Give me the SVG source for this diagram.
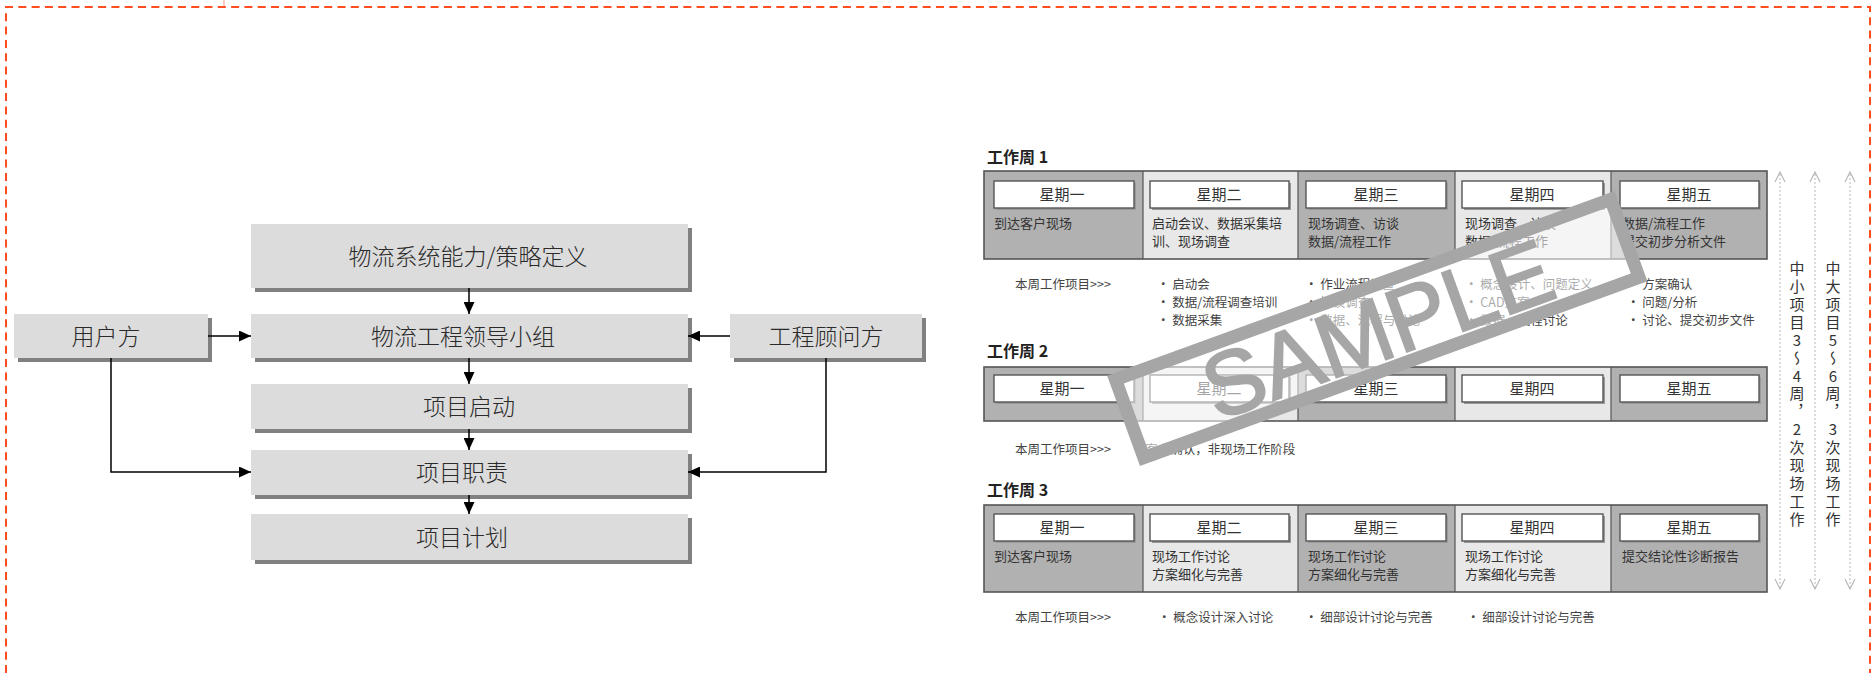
<svg xmlns="http://www.w3.org/2000/svg" width="1872" height="673" viewBox="0 0 1872 673">
<style>
.box{fill:#dcdcdc}
.shd{fill:#808080}
.lbl{font-family:"Noto Sans CJK SC","Liberation Sans",sans-serif;font-size:23px;font-weight:300;fill:#2a2a2a;text-anchor:middle}
.conn{stroke:#000;stroke-width:1.5;fill:none}
.dk{fill:#b1b1b1}
.lt{fill:#e8e8e8}
.frame{fill:none;stroke:#555;stroke-width:1.6}
.div{stroke:#555;stroke-width:1.2}
.hdr{fill:#fff;stroke:#555;stroke-width:1.4}
.hdrs{fill:#9a9a9a}
.ht{font-family:"Noto Sans CJK SC","Liberation Sans",sans-serif;font-size:15px;fill:#333;text-anchor:middle}
.bt{font-family:"Noto Sans CJK SC","Liberation Sans",sans-serif;font-size:13px;fill:#333}
.nt{font-family:"Noto Sans CJK SC","Liberation Sans",sans-serif;font-size:12.5px;fill:#444}
.wk{font-family:"Noto Sans CJK SC","Liberation Sans",sans-serif;font-size:16px;font-weight:bold;fill:#222}
.vt{font-family:"Noto Sans CJK SC","Liberation Sans",sans-serif;font-size:15px;fill:#333;writing-mode:vertical-rl;text-orientation:upright;letter-spacing:2.9px}
.dot{stroke:#b8b8b8;stroke-width:1;stroke-dasharray:2 2;fill:none}
.chev{stroke:#b8b8b8;stroke-width:1.2;fill:none}
</style>
<defs>
<marker id="ah" viewBox="0 0 12 11" refX="12" refY="5.5" markerWidth="12" markerHeight="11" markerUnits="userSpaceOnUse" orient="auto">
<path d="M0,0 L12,5.5 L0,11 z" fill="#000"/>
</marker>
</defs>
<rect width="1872" height="673" fill="#fff"/>
<!-- dashed border -->
<path d="M6,673 V7 H1870 V673" fill="none" stroke="#ff4d1f" stroke-width="2" stroke-dasharray="8 5.3"/>
<line x1="224" y1="0" x2="224" y2="6" stroke="#ff9a80" stroke-width="1"/>

<!-- flowchart -->
<g id="n-strategy"><rect class="shd" x="255" y="228" width="437" height="64"/><rect class="box" x="251" y="224" width="437" height="64"/><text class="lbl" x="468" y="265">物流系统能力/策略定义</text></g>
<g id="n-lead"><rect class="shd" x="255" y="318" width="437" height="44"/><rect class="box" x="251" y="314" width="437" height="44"/><text class="lbl" x="463" y="345">物流工程领导小组</text></g>
<g id="n-user"><rect class="shd" x="18" y="318" width="194" height="44"/><rect class="box" x="14" y="314" width="194" height="44"/><text class="lbl" x="106" y="345">用户方</text></g>
<g id="n-consult"><rect class="shd" x="734" y="318" width="192" height="44"/><rect class="box" x="730" y="314" width="192" height="44"/><text class="lbl" x="826" y="345">工程顾问方</text></g>
<g id="n-start"><rect class="shd" x="255" y="388" width="437" height="45"/><rect class="box" x="251" y="384" width="437" height="45"/><text class="lbl" x="469" y="415">项目启动</text></g>
<g id="n-duty"><rect class="shd" x="255" y="454" width="437" height="45"/><rect class="box" x="251" y="450" width="437" height="45"/><text class="lbl" x="462" y="481">项目职责</text></g>
<g id="n-plan"><rect class="shd" x="255" y="518" width="437" height="46"/><rect class="box" x="251" y="514" width="437" height="46"/><text class="lbl" x="462" y="546">项目计划</text></g>

<g id="connectors">
<path class="conn" d="M469,288 V314" marker-end="url(#ah)"/>
<path class="conn" d="M469,358 V384" marker-end="url(#ah)"/>
<path class="conn" d="M469,429 V450" marker-end="url(#ah)"/>
<path class="conn" d="M469,495 V514" marker-end="url(#ah)"/>
<path class="conn" d="M208,336 H251" marker-end="url(#ah)"/>
<path class="conn" d="M730,336 H688" marker-end="url(#ah)"/>
<path class="conn" d="M111,358 V472 H251" marker-end="url(#ah)"/>
<path class="conn" d="M826,358 V472 H688" marker-end="url(#ah)"/>
</g>

<!-- schedule -->
<g id="week1">
<text class="wk" x="987" y="163">工作周 1</text>
<rect class="dk" x="984" y="171" width="159" height="88"/><rect class="lt" x="1143" y="171" width="155" height="88"/><rect class="dk" x="1298" y="171" width="157" height="88"/><rect class="lt" x="1455" y="171" width="156" height="88"/><rect class="dk" x="1611" y="171" width="156" height="88"/>
<rect class="frame" x="984" y="171" width="783" height="88"/>
<path class="div" d="M1143,171 V259 M1298,171 V259 M1455,171 V259 M1611,171 V259"/>
<rect class="hdrs" x="996" y="183" width="140" height="27"/><rect class="hdr" x="994" y="181" width="140" height="27"/>
<rect class="hdrs" x="1152" y="183" width="139" height="27"/><rect class="hdr" x="1150" y="181" width="139" height="27"/>
<rect class="hdrs" x="1308" y="183" width="140" height="27"/><rect class="hdr" x="1306" y="181" width="140" height="27"/>
<rect class="hdrs" x="1464" y="183" width="141" height="27"/><rect class="hdr" x="1462" y="181" width="141" height="27"/>
<rect class="hdrs" x="1622" y="183" width="139" height="27"/><rect class="hdr" x="1620" y="181" width="139" height="27"/>
<text class="ht" x="1062" y="200">星期一</text><text class="ht" x="1219" y="200">星期二</text><text class="ht" x="1376" y="200">星期三</text><text class="ht" x="1532" y="200">星期四</text><text class="ht" x="1689" y="200">星期五</text>
<text class="bt" x="994" y="228">到达客户现场</text>
<text class="bt" x="1152" y="228">启动会议、数据采集培</text><text class="bt" x="1152" y="246">训、现场调查</text>
<text class="bt" x="1308" y="228">现场调查、访谈</text><text class="bt" x="1308" y="246">数据/流程工作</text>
<text class="bt" x="1465" y="228">现场调查、访谈</text><text class="bt" x="1465" y="246">数据/流程工作</text>
<text class="bt" x="1622" y="228">数据/流程工作</text><text class="bt" x="1622" y="246">提交初步分析文件</text>
<text class="nt" x="1015" y="289">本周工作项目&gt;&gt;&gt;</text>
<text class="nt" x="1157" y="289">• 启动会</text><text class="nt" x="1157" y="307">• 数据/流程调查培训</text><text class="nt" x="1157" y="325">• 数据采集</text>
<text class="nt" x="1305" y="289">• 作业流程调查</text><text class="nt" x="1305" y="307">• 访谈调查</text><text class="nt" x="1305" y="325">• 数据、流程与讨论</text>
<text class="nt" x="1465" y="289">• 概念设计、问题定义</text><text class="nt" x="1465" y="307">• CAD方案</text><text class="nt" x="1465" y="325">• 数据、流程讨论</text>
<text class="nt" x="1627" y="289">• 方案确认</text><text class="nt" x="1627" y="307">• 问题/分析</text><text class="nt" x="1627" y="325">• 讨论、提交初步文件</text>
</g>

<g id="week2">
<text class="wk" x="987" y="357">工作周 2</text>
<rect class="dk" x="984" y="367" width="159" height="54"/><rect class="lt" x="1143" y="367" width="155" height="54"/><rect class="dk" x="1298" y="367" width="157" height="54"/><rect class="lt" x="1455" y="367" width="156" height="54"/><rect class="dk" x="1611" y="367" width="156" height="54"/>
<rect class="frame" x="984" y="367" width="783" height="54"/>
<path class="div" d="M1143,367 V421 M1298,367 V421 M1455,367 V421 M1611,367 V421"/>
<rect class="hdrs" x="996" y="377" width="140" height="27"/><rect class="hdr" x="994" y="375" width="140" height="27"/>
<rect class="hdrs" x="1152" y="377" width="139" height="27"/><rect class="hdr" x="1150" y="375" width="139" height="27"/>
<rect class="hdrs" x="1308" y="377" width="140" height="27"/><rect class="hdr" x="1306" y="375" width="140" height="27"/>
<rect class="hdrs" x="1464" y="377" width="141" height="27"/><rect class="hdr" x="1462" y="375" width="141" height="27"/>
<rect class="hdrs" x="1622" y="377" width="139" height="27"/><rect class="hdr" x="1620" y="375" width="139" height="27"/>
<text class="ht" x="1062" y="394">星期一</text><text class="ht" x="1219" y="394">星期二</text><text class="ht" x="1376" y="394">星期三</text><text class="ht" x="1532" y="394">星期四</text><text class="ht" x="1689" y="394">星期五</text>
<text class="nt" x="1015" y="454">本周工作项目&gt;&gt;&gt;</text>
<text class="nt" x="1130" y="454">• 客户确认，非现场工作阶段</text>
</g>

<g id="week3">
<text class="wk" x="987" y="496">工作周 3</text>
<rect class="dk" x="984" y="505" width="159" height="87"/><rect class="lt" x="1143" y="505" width="155" height="87"/><rect class="dk" x="1298" y="505" width="157" height="87"/><rect class="lt" x="1455" y="505" width="156" height="87"/><rect class="dk" x="1611" y="505" width="156" height="87"/>
<rect class="frame" x="984" y="505" width="783" height="87"/>
<path class="div" d="M1143,505 V592 M1298,505 V592 M1455,505 V592 M1611,505 V592"/>
<rect class="hdrs" x="996" y="516" width="140" height="27"/><rect class="hdr" x="994" y="514" width="140" height="27"/>
<rect class="hdrs" x="1152" y="516" width="139" height="27"/><rect class="hdr" x="1150" y="514" width="139" height="27"/>
<rect class="hdrs" x="1308" y="516" width="140" height="27"/><rect class="hdr" x="1306" y="514" width="140" height="27"/>
<rect class="hdrs" x="1464" y="516" width="141" height="27"/><rect class="hdr" x="1462" y="514" width="141" height="27"/>
<rect class="hdrs" x="1622" y="516" width="139" height="27"/><rect class="hdr" x="1620" y="514" width="139" height="27"/>
<text class="ht" x="1062" y="533">星期一</text><text class="ht" x="1219" y="533">星期二</text><text class="ht" x="1376" y="533">星期三</text><text class="ht" x="1532" y="533">星期四</text><text class="ht" x="1689" y="533">星期五</text>
<text class="bt" x="994" y="561">到达客户现场</text>
<text class="bt" x="1152" y="561">现场工作讨论</text><text class="bt" x="1152" y="579">方案细化与完善</text>
<text class="bt" x="1308" y="561">现场工作讨论</text><text class="bt" x="1308" y="579">方案细化与完善</text>
<text class="bt" x="1465" y="561">现场工作讨论</text><text class="bt" x="1465" y="579">方案细化与完善</text>
<text class="bt" x="1622" y="561">提交结论性诊断报告</text>
<text class="nt" x="1015" y="622">本周工作项目&gt;&gt;&gt;</text>
<text class="nt" x="1158" y="622">• 概念设计深入讨论</text>
<text class="nt" x="1305" y="622">• 细部设计讨论与完善</text>
<text class="nt" x="1467" y="622">• 细部设计讨论与完善</text>
</g>

<g id="duration">
<path class="dot" d="M1780,174 V588 M1815,174 V588 M1850,174 V588"/>
<path class="chev" d="M1775,182 L1780,172 L1785,182 M1810,182 L1815,172 L1820,182 M1845,182 L1850,172 L1855,182"/>
<path class="chev" d="M1775,579 L1780,589 L1785,579 M1810,579 L1815,589 L1820,579 M1845,579 L1850,589 L1855,579"/>
<text class="vt" x="1797" y="261">中小项目3～4周，2次现场工作</text>
<text class="vt" x="1833" y="261">中大项目5～6周，3次现场工作</text>
</g>

<g id="watermark" transform="translate(1140,466) rotate(-20)">
<rect x="6.5" y="-89.5" width="527" height="83" fill="#fff" fill-opacity="0.55" stroke="#a6a6a6" stroke-width="13"/>
<text x="270" y="-16" text-anchor="middle" font-family="Liberation Sans, Arial, sans-serif" font-size="90" fill="#a6a6a6" stroke="#a6a6a6" stroke-width="2">SAMPLE</text>
</g>
</svg>
